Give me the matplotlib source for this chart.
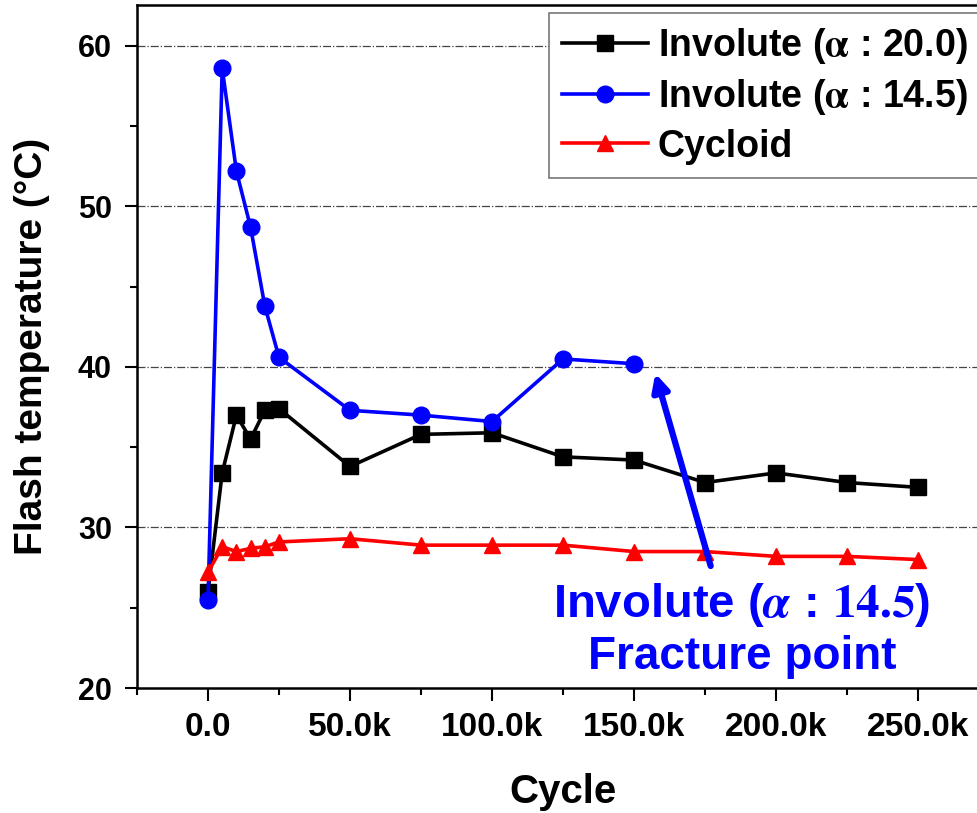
import matplotlib
matplotlib.use("Agg")
import matplotlib.pyplot as plt
from matplotlib.ticker import MultipleLocator, FuncFormatter

plt.rcParams['font.family'] = ['Liberation Sans', 'DejaVu Sans']
plt.rcParams['font.weight'] = 'bold'
plt.rcParams['mathtext.fontset'] = 'stix'

# data
cycles = [0, 5e3, 10e3, 15e3, 20e3, 25e3, 50e3, 75e3, 100e3, 125e3, 150e3,
          175e3, 200e3, 225e3, 250e3]
involute_20 = [26.0, 33.4, 37.0, 35.5, 37.3, 37.4, 33.8, 35.8, 35.9, 34.4,
               34.2, 32.8, 33.4, 32.8, 32.5]
cycles_145 = [0, 5e3, 10e3, 15e3, 20e3, 25e3, 50e3, 75e3, 100e3, 125e3, 150e3]
involute_145 = [25.5, 58.6, 52.2, 48.7, 43.8, 40.6, 37.3, 37.0, 36.6, 40.5, 40.2]
cycloid = [27.2, 28.8, 28.5, 28.7, 28.8, 29.1, 29.3, 28.9, 28.9, 28.9,
           28.5, 28.5, 28.2, 28.2, 28.0]

labels = [r'Involute ($\mathrm{\alpha}$ : 20.0)',
          r'Involute ($\mathrm{\alpha}$ : 14.5)', 'Cycloid']

fig = plt.figure(figsize=(9.78, 8.13), dpi=100)
ax = fig.add_axes([137/978, 125/813, 852/978, 683/813])

ax.plot(cycles, involute_20, '-s', color='black', lw=2.6, ms=11, label=labels[0])
ax.plot(cycles_145, involute_145, '-o', color='#0000ff', lw=2.6, ms=12, label=labels[1])
ax.plot(cycles, cycloid, '-^', color='#ff0000', lw=2.6, ms=12, label=labels[2])

ax.set_xlim(-25e3, 275e3)
ax.set_ylim(20, 62.55)

ax.xaxis.set_major_locator(MultipleLocator(50e3))
ax.xaxis.set_minor_locator(MultipleLocator(25e3))
ax.yaxis.set_major_locator(MultipleLocator(10))
ax.yaxis.set_minor_locator(MultipleLocator(5))
ax.xaxis.set_major_formatter(FuncFormatter(
    lambda v, p: '0.0' if v == 0 else f'{v/1000:.1f}k'))

ax.tick_params(axis='both', which='major', direction='out', length=9, width=1.5)
ax.tick_params(axis='both', which='minor', direction='out', length=5, width=1.5)
ax.tick_params(axis='x', labelsize=24, pad=8)
ax.tick_params(axis='y', labelsize=22, pad=9)
for s in ax.spines.values():
    s.set_linewidth(1.8)

for gy in [30, 40, 50, 60]:
    ax.axhline(gy, color='#444444', lw=0.9, ls='-.', zorder=0)

ax.set_xlabel('Cycle', fontsize=29, fontweight='bold', labelpad=22)
ax.set_ylabel('Flash temperature (°C)', fontsize=28, fontweight='bold', labelpad=20)

leg = ax.legend(loc='upper left', bbox_to_anchor=(549/978, 1 - 13/813),
                bbox_transform=fig.transFigure, fontsize=27, numpoints=1,
                handlelength=2.3, handletextpad=0.25, labelspacing=0.3,
                borderpad=0.35, borderaxespad=0, fancybox=False, framealpha=1)
leg.get_frame().set_edgecolor('#777777')
leg.get_frame().set_linewidth(1.2)

# fracture point arrow and note
ax.annotate('', xy=(157.5e3, 39.6), xytext=(177e3, 27.6),
            arrowprops=dict(arrowstyle='-|>,head_length=1.0,head_width=0.5',
                            color='#0000ff', lw=4.5, shrinkA=0, shrinkB=0))
ax.text(188e3, 25.2, r'Involute ($\alpha$ : $\mathbf{14.5}$)', color='#0000ff',
        fontsize=34, fontweight='bold', ha='center', va='center')
ax.text(188e3, 21.95, 'Fracture point', color='#0000ff',
        fontsize=33, fontweight='bold', ha='center', va='center')

fig.savefig('out.png', dpi=100)
